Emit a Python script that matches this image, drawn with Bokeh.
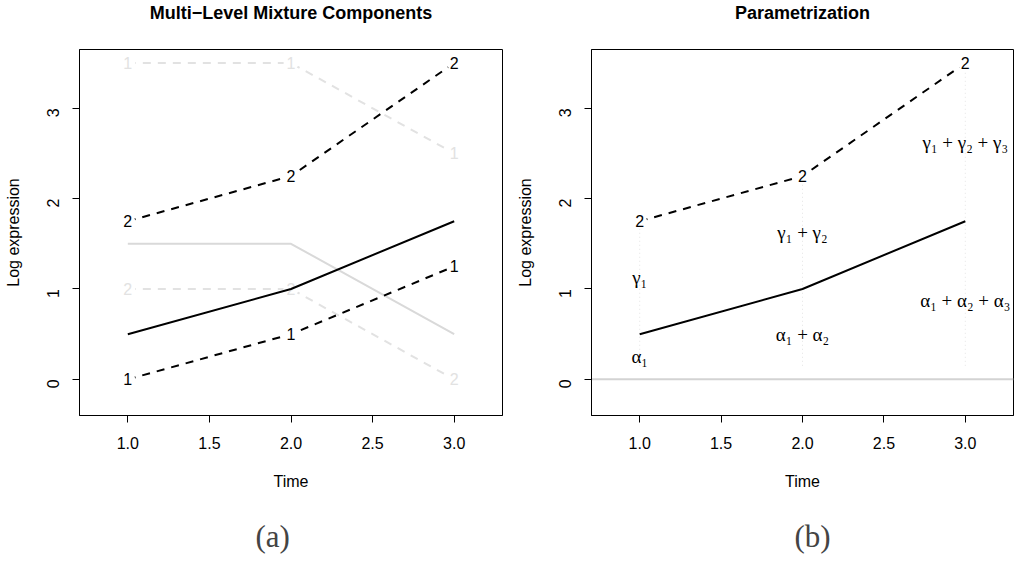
import math
from bokeh.plotting import figure
from bokeh.models import Range1d, FixedTicker, Title, Span
from bokeh.layouts import row
from bokeh.core.properties import value
from bokeh.embed import file_html
from bokeh.resources import INLINE

# ---------------- data ----------------
time = [1.0, 2.0, 3.0]
x_ticks = [1.0, 1.5, 2.0, 2.5, 3.0]
x_tick_labels = ["1.0", "1.5", "2.0", "2.5", "3.0"]
y_ticks = [0, 1, 2, 3]
y_tick_labels = ["0", "1", "2", "3"]

# panel (a): mixture components
a_grey_dash_1 = [3.5, 3.5, 2.5]     # light grey dashed, labelled "1"
a_grey_dash_2 = [1.0, 1.0, 0.0]     # light grey dashed, labelled "2"
a_grey_solid = [1.5, 1.5, 0.5]      # light grey solid
a_black_dash_2 = [1.75, 2.25, 3.5]  # black dashed, labelled "2"
a_black_dash_1 = [0.0, 0.5, 1.25]   # black dashed, labelled "1"
a_black_solid = [0.5, 1.0, 1.75]    # black solid
label_1 = ["1", "1", "1"]
label_2 = ["2", "2", "2"]

# panel (b): parametrization
b_dash = [1.75, 2.25, 3.5]
b_solid = [0.5, 1.0, 1.75]
alpha_labels = ["α₁", "α₁ + α₂", "α₁ + α₂ + α₃"]
gamma_labels = ["γ₁", "γ₁ + γ₂", "γ₁ + γ₂ + γ₃"]
guide_bottom = 0.15

titles = ["Multi−Level Mixture Components", "Parametrization"]
captions = ["(a)", "(b)"]
x_label = "Time"
y_label = "Log expression"

# ---------------- styling ----------------
SANS = "Liberation Sans"
SERIF = "Liberation Serif"
GREY_D = "#e2e2e2"
GREY_S = "#d9d9d9"


def base_fig(title, caption, left, right, fw, cap_offset):
    p = figure(frame_width=fw, frame_height=366,
               x_range=Range1d(0.704, 3.296), y_range=Range1d(-0.4, 3.65),
               output_backend="svg", toolbar_location=None,
               min_border_left=left, min_border_right=right,
               min_border_top=49, min_border_bottom=148,
               background_fill_color="white",
               border_fill_color="white")
    p.grid.visible = False
    p.outline_line_color = "black"
    p.outline_line_width = 1
    p.outline_line_alpha = 1
    # spacer panel between frame and title, then the title itself
    p.add_layout(Title(text=" ", text_font_size="10px", standoff=14), "above")
    p.add_layout(Title(text=title, align="center", text_font=SANS,
                       text_font_size="18px", text_font_style="bold",
                       text_color="black", standoff=0), "above")
    for ax in (p.xaxis[0], p.yaxis[0]):
        ax.major_tick_in = 0
        ax.major_tick_out = 7
        ax.minor_tick_line_color = None
        ax.axis_line_color = "black"
        ax.major_tick_line_color = "black"
        ax.major_label_text_font = SANS
        ax.major_label_text_font_size = "16px"
        ax.major_label_text_color = "black"
        ax.axis_label_text_font = SANS
        ax.axis_label_text_font_size = "16px"
        ax.axis_label_text_font_style = "normal"
        ax.axis_label_text_color = "black"
    p.xaxis.ticker = FixedTicker(ticks=x_ticks)
    p.xaxis.major_label_overrides = {t: s for t, s in zip(x_ticks, x_tick_labels)}
    p.yaxis.ticker = FixedTicker(ticks=y_ticks)
    p.yaxis.major_label_overrides = {t: s for t, s in zip(y_ticks, y_tick_labels)}
    p.yaxis.major_label_orientation = math.pi / 2
    p.xaxis.major_label_standoff = 14
    p.yaxis.major_label_standoff = 19
    p.xaxis.axis_label = x_label
    p.yaxis.axis_label = y_label
    p.xaxis.axis_label_standoff = 21
    p.yaxis.axis_label_standoff = 17
    p.add_layout(Title(text=caption, align="left", offset=cap_offset,
                       text_font=SERIF, text_font_size="31px",
                       text_font_style="normal", standoff=48), "below")
    return p


def labelled(p, ys, labels, color, dash, width=2):
    p.line(time, ys, line_color=color, line_width=width, line_dash=dash)
    p.scatter(time, ys, marker="circle", size=15, fill_color="white",
              line_color=None)
    p.text(time, ys, text=labels, text_font=value(SANS), text_font_size="16px",
           text_color=color, text_align="center", text_baseline="middle")


# ---------------- panel (a) ----------------
pa = base_fig(titles[0], captions[0], 79, 6, 423, 176)
labelled(pa, a_grey_dash_1, label_1, GREY_D, "8 7")
labelled(pa, a_grey_dash_2, label_2, GREY_D, "8 7")
pa.line(time, a_grey_solid, line_color=GREY_S, line_width=2)
labelled(pa, a_black_dash_2, label_2, "black", "8 7")
labelled(pa, a_black_dash_1, label_1, "black", "8 7")
pa.line(time, a_black_solid, line_color="black", line_width=2)

# ---------------- panel (b) ----------------
pb = base_fig(titles[1], captions[1], 83, 2, 422, 203)
pb.add_layout(Span(location=0, dimension="width", line_color="#d3d3d3",
                   line_width=2, level="underlay"))
pb.segment(x0=time, y0=[guide_bottom] * 3, x1=time, y1=b_dash,
           line_color="#e4e4e4", line_width=1, line_dash="1 3")
labelled(pb, b_dash, label_2, "black", "8 7")
pb.line(time, b_solid, line_color="black", line_width=2)
alpha_y = [s / 2 for s in b_solid]
gamma_y = [(s + d) / 2 for s, d in zip(b_solid, b_dash)]
pb.text(time, alpha_y, text=alpha_labels, text_font=value(SERIF),
        text_font_size="19px", text_color="black", text_align="center",
        text_baseline="middle")
pb.text(time, gamma_y, text=gamma_labels, text_font=value(SERIF),
        text_font_size="19px", text_color="black", text_align="center",
        text_baseline="middle")

layout = row(pa, pb)
open("out.html", "w").write(file_html(layout, INLINE))
